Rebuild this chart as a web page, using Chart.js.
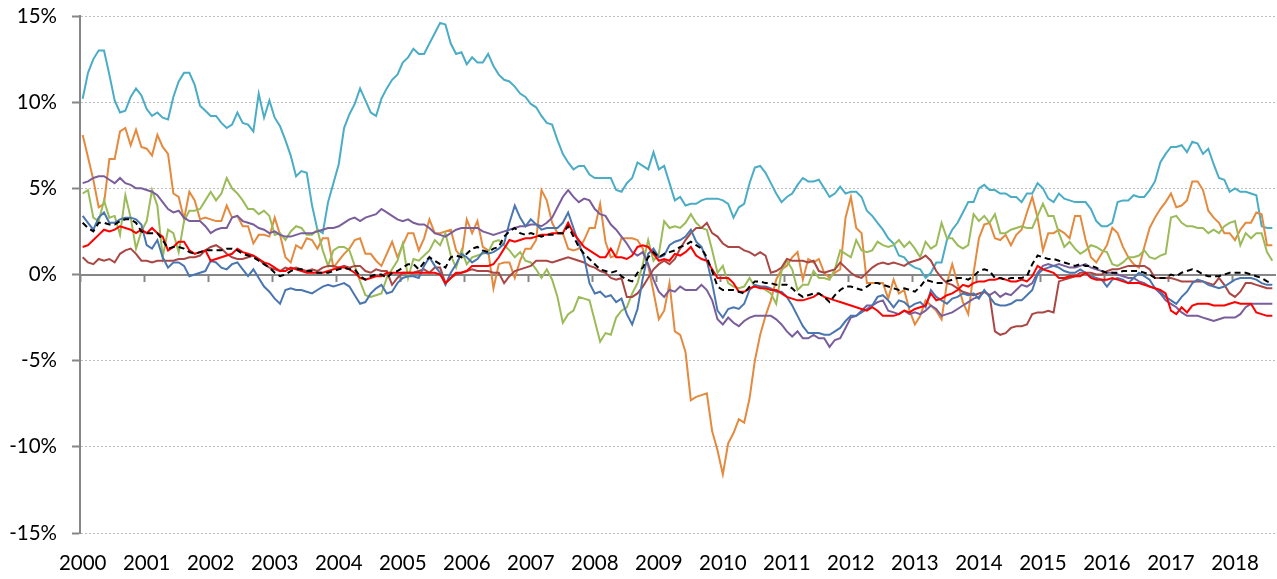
<!DOCTYPE html>
<html>
<head>
<meta charset="utf-8">
<script src="https://cdn.jsdelivr.net/npm/chart.js@4/dist/chart.umd.min.js"></script>
<style>
  html, body { margin: 0; padding: 0; background: #ffffff; }
  #contenedor { width: 1277px; height: 579px; }
</style>
</head>
<body>
<div id="contenedor"><canvas id="myChart" width="1277" height="579"></canvas></div>
<script>
//CONSTANTES
const anios = ["2000", "2001", "2002", "2003", "2004", "2005", "2006", "2007", "2008", "2009",
  "2010", "2011", "2012", "2013", "2014", "2015", "2016", "2017", "2018"];

// una fila por año (ene..dic), variación en %
const serieCian = [
  10.2, 11.7, 12.5, 13.0, 13.0, 11.6, 10.1, 9.4, 9.5, 10.3, 10.8, 10.4,
  9.6, 9.2, 9.4, 9.1, 9.0, 10.3, 11.2, 11.7, 11.7, 11.0, 9.8, 9.5,
  9.2, 9.2, 8.8, 8.5, 8.7, 9.4, 8.8, 8.7, 8.3, 10.5, 9.1, 10.1,
  9.1, 8.6, 7.8, 6.9, 5.7, 6.0, 5.9, 4.0, 2.6, 2.4, 4.2, 5.3,
  6.4, 8.5, 9.3, 9.9, 10.8, 10.1, 9.4, 9.2, 10.2, 10.8, 11.3, 11.6,
  12.3, 12.6, 13.1, 12.8, 12.8, 13.4, 14.0, 14.6, 14.5, 13.4, 12.8, 12.9,
  12.2, 12.6, 12.3, 12.3, 12.8, 12.1, 11.6, 11.3, 11.2, 10.9, 10.5, 10.3,
  9.9, 9.7, 9.2, 8.8, 8.7, 7.8, 7.0, 6.5, 6.1, 6.3, 6.3, 5.8,
  5.6, 5.6, 5.6, 5.6, 4.9, 4.8, 5.3, 5.6, 6.5, 6.3, 6.1, 7.1,
  6.1, 6.3, 5.3, 4.3, 4.5, 4.0, 4.1, 4.1, 4.3, 4.4, 4.4, 4.4,
  4.3, 4.1, 3.3, 3.9, 4.1, 5.3, 6.2, 6.3, 5.9, 5.3, 4.7, 4.2,
  4.5, 4.7, 5.2, 5.6, 5.4, 5.4, 5.5, 5.0, 4.5, 4.7, 5.1, 4.7,
  4.8, 4.8, 4.5, 3.7, 3.4, 3.0, 2.6, 2.1, 1.8, 1.1, 1.0, 0.6,
  0.4, 0.3, -0.2, 0.1, 0.7, 0.7, 2.0, 2.6, 3.0, 3.6, 4.2, 4.2,
  5.0, 5.2, 4.9, 4.9, 4.7, 4.7, 4.5, 4.5, 4.2, 4.7, 4.7, 5.3,
  5.0, 4.4, 4.2, 4.7, 4.4, 4.3, 4.2, 4.2, 4.2, 3.8, 3.1, 2.8,
  2.8, 3.0, 4.2, 4.3, 4.3, 4.6, 4.5, 4.5, 4.9, 5.4, 6.5, 7.0,
  7.4, 7.4, 7.5, 7.1, 7.7, 7.6, 7.0, 7.3, 6.4, 5.6, 5.5, 4.8,
  5.0, 4.8, 4.8, 4.7, 4.6, 2.8, 2.7, 2.7
];

const serieNaranja = [
  8.1, 6.8, 5.5, 3.9, 4.1, 6.7, 6.7, 8.3, 8.5, 7.5, 8.4, 7.4,
  7.3, 6.9, 8.1, 7.4, 7.0, 4.7, 4.5, 3.2, 4.8, 4.3, 3.2, 3.3,
  3.2, 3.1, 3.1, 4.0, 3.3, 3.4, 2.8, 2.8, 1.8, 2.3, 2.3, 2.2,
  3.3, 2.3, 1.0, 0.7, 1.7, 1.5, 2.1, 2.0, 1.5, 2.1, 2.1, 0.4,
  0.8, 1.2, 1.5, 2.0, 2.1, 1.2, 1.2, 0.8, 0.5, 1.2, 1.9, 1.0,
  1.7, 2.4, 2.4, 1.4, 2.1, 3.2, 2.4, 2.4, 2.5, 2.6, 1.4, 1.0,
  3.2, 2.4, 3.1, 1.6, 1.4, -0.8, 0.6, 0.7, 0.7, -0.2, 0.8, 1.5,
  1.5, 2.0, 4.9, 4.3, 3.0, 2.4, 2.4, 1.5, 1.4, 1.5, 2.0, 2.7,
  2.7, 4.1, 1.9, 1.0, 1.1, 2.1, 2.1, 2.1, 2.0, 1.5, 0.5, -1.0,
  -2.6, -2.1, -0.5, -3.3, -3.5, -4.5, -7.3, -7.1, -7.0, -6.9, -9.1, -10.2,
  -11.6, -9.8, -9.2, -8.4, -8.6, -7.2, -5.0, -3.5, -2.4, -1.5, -0.3, 0.3,
  0.5, 1.0, 1.3, -0.3, 0.9, 0.7, 0.9, 0.1, -0.2, 0.1, 0.3, 3.3,
  4.5, 2.7, 2.4, -0.5, -0.5, -0.5, -0.5, -1.4, -0.3, -1.1, -0.9, -2.1,
  -2.9, -2.4, -1.5, -1.8, -2.1, -2.6, -0.5, 0.6, -0.5, -1.6, -2.3, 0.1,
  2.1, 2.9, 3.0, 2.1, 2.0, 2.3, 1.7, 2.3, 2.6, 3.6, 4.5, 3.3,
  1.4, 2.4, 2.4, 2.6, 2.4, 2.1, 3.4, 3.4, 2.0, 1.0, 0.7, 1.2,
  1.7, 2.7, 2.4, 1.6, 1.0, 0.6, 0.4, 1.6, 2.7, 3.3, 3.8, 4.2,
  4.7, 3.9, 4.0, 4.3, 5.4, 5.4, 4.9, 3.7, 3.3, 3.0, 2.4, 2.4,
  2.0, 2.6, 3.0, 3.0, 3.6, 3.5, 1.7, 1.7
];

const serieVerde = [
  4.7, 4.9, 3.3, 3.1, 4.3, 3.3, 3.4, 2.3, 4.6, 3.3, 1.5, 2.5,
  3.1, 4.9, 4.0, 1.0, 2.6, 2.4, 1.3, 3.1, 3.7, 3.7, 3.8, 4.3,
  4.8, 4.3, 4.7, 5.6, 5.0, 4.7, 4.3, 3.8, 3.8, 3.5, 3.7, 3.4,
  2.3, 2.4, 2.0, 2.5, 2.8, 2.7, 2.3, 2.3, 2.6, 1.4, 0.5, 1.4,
  1.6, 1.6, 1.4, 0.5, -0.4, -1.2, -1.3, -1.2, -1.1, -0.2, 0.3, 0.8,
  1.8, -0.2, 0.9, 0.8, 1.1, 1.4, 2.0, 1.7, 2.4, 1.1, 0.4, 1.4,
  0.6, 1.0, 1.1, 1.2, 1.3, 1.9, 2.0, 1.7, 1.4, 1.0, 1.3, 0.8,
  0.7, 0.3, -0.2, 0.3, -0.3, -1.3, -2.8, -2.3, -2.1, -1.3, -1.4, -1.5,
  -2.7, -3.9, -3.4, -3.5, -2.5, -2.1, -1.9, -1.1, -0.5, 0.6, 2.0, 0.8,
  1.2, 3.1, 2.7, 2.8, 2.7, 3.0, 3.5, 3.0, 2.7, 2.6, 1.4, 0.1,
  0.5, -0.5, -0.7, -0.8, -0.7, -0.2, -0.7, -0.7, -0.9, -1.1, -1.7, 0.2,
  0.8, 0.3, -0.9, -0.6, -0.6, 0.2, -0.2, -0.2, -0.3, 0.3, 1.4, 1.2,
  1.0, 2.0, 1.4, 1.3, 1.4, 1.9, 1.7, 1.6, 1.7, 2.0, 1.6, 1.9,
  1.5, 1.0, 1.9, 1.5, 1.7, 3.0, 2.1, 2.1, 1.7, 1.5, 1.7, 3.5,
  3.1, 3.4, 3.0, 3.5, 2.4, 2.4, 2.6, 2.7, 2.8, 2.7, 2.7, 3.4,
  4.1, 3.4, 3.4, 2.4, 1.6, 1.9, 1.5, 1.2, 1.4, 1.7, 1.6, 1.4,
  1.3, 0.6, 0.5, 0.7, 1.0, 1.0, 1.1, 1.4, 1.0, 0.9, 1.1, 1.2,
  3.3, 3.4, 3.0, 2.8, 2.8, 2.7, 2.7, 2.4, 2.6, 2.4, 2.8, 3.0,
  3.1, 1.7, 2.4, 2.1, 2.4, 2.4, 1.3, 0.8
];

const serieMorada = [
  5.3, 5.4, 5.6, 5.7, 5.7, 5.5, 5.3, 5.6, 5.3, 5.2, 5.0, 5.0,
  4.9, 4.8, 4.6, 4.2, 3.8, 3.6, 3.7, 3.3, 3.1, 3.1, 3.1, 2.8,
  2.4, 2.6, 2.7, 2.7, 3.3, 3.4, 3.1, 3.0, 2.9, 2.7, 2.6, 2.4,
  2.5, 2.3, 2.2, 2.2, 2.3, 2.4, 2.4, 2.4, 2.5, 2.6, 2.7, 2.7,
  2.8, 3.0, 3.2, 3.3, 3.1, 3.3, 3.4, 3.5, 3.8, 3.6, 3.4, 3.2,
  3.1, 3.2, 3.0, 2.9, 2.9, 2.7, 2.4, 2.3, 2.2, 2.4, 2.6, 2.7,
  2.7, 2.7, 2.7, 2.5, 2.4, 2.3, 2.4, 2.5, 2.6, 2.7, 2.8, 2.8,
  2.9, 2.9, 2.8, 3.0, 3.3, 3.9, 4.5, 4.9, 4.5, 4.2, 4.4, 4.3,
  3.8, 3.5, 3.4, 2.9, 2.6, 2.2, 1.8, 1.3, 1.1, 1.3, 0.6, -0.3,
  -1.0, -1.3, -0.9, -1.0, -0.7, -0.9, -0.9, -0.9, -0.6, -0.9, -1.5, -2.6,
  -2.9, -2.5, -2.8, -3.0, -2.7, -2.5, -2.4, -2.4, -2.4, -2.4, -2.6, -2.9,
  -3.3, -3.6, -3.3, -3.7, -3.7, -3.5, -3.7, -3.7, -4.2, -3.8, -3.7, -3.1,
  -2.5, -2.4, -2.1, -1.8, -1.8, -1.6, -1.5, -2.1, -2.2, -2.3, -2.1, -2.3,
  -2.2, -2.3, -2.1, -1.8, -2.0, -2.4, -2.3, -2.2, -2.0, -1.8, -1.6, -1.4,
  -1.3, -1.0, -1.2, -1.0, -1.3, -1.1, -1.2, -0.9, -0.6, -0.7, -0.5, 0.1,
  0.5, 0.6, 0.5, 0.6, 0.5, 0.4, 0.4, 0.5, 0.6, 0.4, 0.3, 0.2,
  0.1, 0.1, 0.0, -0.1, -0.2, -0.2, -0.4, -0.5, -0.7, -0.8, -1.1, -1.5,
  -1.7, -1.9, -2.2, -2.4, -2.4, -2.4, -2.5, -2.6, -2.7, -2.6, -2.5, -2.5,
  -2.5, -2.3, -1.9, -1.7, -1.7, -1.7, -1.7, -1.7
];

const serieAzul = [
  3.4, 3.0, 2.6, 3.3, 3.6, 3.0, 3.0, 3.2, 3.3, 3.3, 3.2, 2.9,
  1.7, 1.5, 2.0, 1.0, 0.4, 0.7, 0.7, 0.5, -0.1, 0.0, 0.1, 0.2,
  0.8, 0.7, 0.4, 0.3, 0.6, 0.7, 0.3, -0.1, 0.3, -0.2, -0.7, -1.0,
  -1.4, -1.7, -0.9, -0.8, -0.9, -0.9, -1.0, -1.1, -0.9, -0.7, -0.6, -0.7,
  -0.6, -0.5, -0.7, -1.2, -1.7, -1.6, -1.1, -0.8, -0.6, -1.1, -1.0, -0.5,
  -0.2, -0.1, -0.1, -0.2, 0.5, 1.0, 0.5, 0.1, -0.6, 0.1, 0.6, 1.2,
  1.0, 0.7, 0.9, 1.3, 1.2, 1.3, 1.5, 1.8, 3.0, 4.0, 3.3, 2.8,
  3.2, 2.9, 2.6, 2.7, 2.7, 2.7, 3.0, 3.6, 2.7, 1.8, 1.0, -0.5,
  -1.1, -1.0, -1.3, -1.2, -1.6, -1.4, -2.3, -2.9, -2.0, -0.2, 1.2, 1.5,
  1.0, 1.1, 1.7, 1.9, 2.0, 2.2, 2.6, 1.9, 1.6, 0.8, -0.5, -2.1,
  -2.5, -2.0, -1.9, -2.0, -1.7, -0.9, -0.6, -0.7, -0.7, -0.8, -1.0, -1.0,
  -1.3, -1.8, -2.4, -3.0, -3.4, -3.4, -3.4, -3.5, -3.5, -3.3, -3.1, -2.7,
  -2.4, -2.4, -2.2, -2.0, -1.8, -1.3, -1.2, -1.5, -1.9, -1.5, -1.6, -1.9,
  -1.7, -1.6, -1.9, -0.9, -1.3, -1.5, -1.7, -1.4, -1.3, -1.1, -1.2, -1.1,
  -1.4, -0.9, -1.3, -1.7, -1.8, -1.8, -1.7, -1.5, -1.5, -1.2, -0.9, 0.0,
  0.3, 0.4, 0.5, 0.4, 0.2, 0.1, 0.1, 0.3, 0.1, -0.1, -0.2, -0.3,
  -0.7, -0.3, -0.2, -0.3, -0.5, -0.2, 0.1, -0.1, -0.3, -0.8, -1.0, -1.3,
  -1.5, -1.7, -1.3, -1.0, -0.5, -0.3, -0.4, -0.6, -0.7, -0.8, -0.7, -0.5,
  -0.3, -0.2, -0.2, -0.2, -0.3, -0.5, -0.6, -0.6
];

const serieRoja = [
  1.6, 1.7, 2.0, 2.3, 2.6, 2.5, 2.6, 2.8, 2.7, 2.6, 2.4, 2.6,
  2.4, 2.7, 2.4, 2.2, 1.4, 1.6, 1.9, 1.9, 1.4, 1.2, 1.3, 1.4,
  0.8, 0.9, 1.0, 1.1, 1.2, 1.5, 1.3, 1.2, 1.1, 0.9, 0.7, 0.6,
  0.4, 0.2, 0.2, 0.4, 0.3, 0.2, 0.1, 0.1, 0.1, 0.1, 0.2, 0.3,
  0.4, 0.4, 0.3, 0.1, -0.2, -0.3, -0.2, -0.1, -0.1, 0.1, 0.1, 0.1,
  0.1, 0.1, 0.1, 0.1, 0.1, 0.1, 0.1, 0.0, -0.5, -0.2, 0.1, 0.1,
  0.2, 0.5, 0.5, 0.5, 0.5, 0.6, 1.0, 1.5, 2.0, 1.9, 2.0, 2.1,
  2.1, 2.2, 2.3, 2.3, 2.4, 2.4, 2.4, 3.0, 2.4, 2.0, 1.6, 1.4,
  1.2, 1.0, 1.0, 1.5, 1.0, 1.0, 0.9, 1.1, 1.6, 1.7, 1.6, 1.2,
  0.8, 0.9, 0.8, 1.2, 1.1, 1.3, 1.6, 1.1, 0.9, 0.8, 0.3, -0.2,
  -0.2, -0.2, -0.5, -1.0, -1.0, -0.8, -0.7, -0.8, -0.8, -0.9, -0.9, -1.1,
  -1.3, -1.4, -1.5, -1.5, -1.4, -1.3, -1.1, -1.3, -1.4, -1.5, -1.6, -1.7,
  -1.8, -1.9, -2.0, -2.1, -1.9, -2.1, -2.4, -2.4, -2.4, -2.3, -2.1, -2.2,
  -2.0, -1.9, -1.8, -1.1, -1.5, -1.4, -1.2, -1.1, -0.9, -0.6, -0.7, -0.5,
  -0.4, -0.4, -0.3, -0.3, -0.2, -0.3, -0.4, -0.4, -0.3, -0.4, -0.1, 0.5,
  0.3, 0.2, 0.1, -0.2, -0.2, -0.1, -0.1, -0.1, 0.1, -0.2, -0.3, -0.3,
  -0.3, -0.2, -0.3, -0.4, -0.5, -0.5, -0.5, -0.6, -0.7, -0.8, -0.9, -1.1,
  -2.1, -2.3, -1.9, -2.2, -1.8, -1.7, -1.7, -1.7, -1.8, -1.8, -1.8, -1.7,
  -1.6, -1.7, -1.7, -1.7, -2.2, -2.3, -2.4, -2.4
];

const serieGranate = [
  1.0, 0.7, 0.6, 0.9, 0.8, 0.9, 0.7, 1.2, 1.4, 1.5, 1.2, 0.8,
  0.8, 0.7, 0.8, 0.8, 0.8, 0.8, 0.9, 0.9, 1.0, 1.0, 1.1, 1.4,
  1.6, 1.7, 1.5, 1.2, 1.0, 0.9, 0.9, 1.0, 1.1, 0.9, 0.6, 0.4,
  0.3, 0.2, 0.4, 0.3, 0.4, 0.3, 0.2, 0.3, 0.2, 0.4, 0.5, 0.5,
  0.4, 0.5, 0.4, 0.5, 0.5, 0.2, 0.1, 0.3, 0.2, 0.2, -0.6, -0.2,
  0.1, 0.1, 0.1, 0.2, 0.3, 0.1, 0.4, 0.4, -0.5, -0.2, 0.0, 0.1,
  0.2, 0.3, 0.2, 0.2, 0.2, 0.1, 0.1, -0.5, -0.1, 0.2, 0.3, 0.4,
  0.5, 0.8, 0.8, 0.8, 0.7, 0.8, 0.9, 1.0, 0.9, 0.8, 0.7, 0.5,
  0.4, 0.2, 0.1, -0.2, -0.3, -0.2, -1.3, -1.3, -1.1, -0.7, -0.2, 0.3,
  0.6, 0.8, 0.6, 0.9, 1.5, 2.0, 2.4, 2.7, 2.7, 3.0, 2.4, 2.2,
  1.8, 1.6, 1.6, 1.6, 1.4, 1.3, 1.1, 1.3, 1.1, 0.1, 0.2, 0.4,
  0.9, 0.8, 0.8, 0.8, 0.7, 0.8, 0.2, 0.1, 0.2, 0.3, 0.7, 0.4,
  0.1, -0.1, -0.2, 0.1, 0.4, 0.6, 0.7, 0.6, 0.7, 0.6, 0.5, 0.7,
  0.8, 0.9, 1.1, 0.8, 0.2, -0.2, -0.5, -0.6, -0.8, -1.0, -1.1, -1.2,
  -1.1, -1.0, -1.2, -3.3, -3.5, -3.4, -3.1, -3.0, -3.0, -2.9, -2.3, -2.2,
  -2.2, -2.1, -2.2, -0.4, -0.3, -0.2, -0.1, 0.1, 0.1, 0.1, 0.0, 0.0,
  0.2, 0.3, 0.3, 0.4, 0.5, 0.5, 0.5, 0.5, 0.3, -0.2, -0.2, -0.2,
  -0.2, -0.3, -0.4, -0.4, -0.4, -0.4, -0.4, -0.5, -0.6, -0.2, -0.6, -1.1,
  -1.3, -1.0, -0.5, -0.5, -0.6, -0.7, -0.8, -0.8
];

const seriePromedio = [
  3.0, 2.7, 2.5, 3.0, 3.0, 2.9, 2.9, 3.1, 3.2, 3.2, 3.0, 2.5,
  2.4, 2.4, 2.4, 2.0, 1.5, 1.6, 1.6, 1.5, 1.3, 1.2, 1.3, 1.4,
  1.4, 1.4, 1.4, 1.5, 1.5, 1.4, 1.2, 1.1, 1.0, 0.8, 0.6, 0.4,
  0.1, -0.1, 0.0, 0.2, 0.3, 0.3, 0.2, 0.2, 0.1, 0.1, 0.1, 0.2,
  0.3, 0.4, 0.3, 0.3, -0.1, -0.3, -0.1, 0.0, 0.0, -0.2, 0.1, 0.2,
  0.4, 0.6, 0.6, 0.3, 0.7, 1.0, 0.8, 0.6, 0.4, 1.0, 1.1, 1.0,
  1.2, 1.5, 1.6, 1.4, 1.3, 1.5, 1.6, 2.2, 2.5, 2.7, 2.4, 2.3,
  2.4, 2.3, 2.2, 2.3, 2.3, 2.4, 2.4, 2.8, 2.2, 1.6, 1.2, 0.9,
  0.6, 0.3, 0.2, 0.1, 0.2, -0.1, -0.3, -0.4, 0.1, 0.4, 1.0, 1.3,
  1.0, 1.2, 1.3, 1.4, 1.6, 1.7, 1.9, 1.7, 1.5, 1.0, 0.2, -0.7,
  -0.9, -0.9, -0.9, -1.0, -1.1, -0.7, -0.4, -0.4, -0.5, -0.5, -0.6, -0.6,
  -0.6, -0.8, -1.1, -1.3, -1.2, -1.1, -1.1, -1.3, -1.6, -1.2, -0.9, -0.7,
  -0.7, -0.8, -0.9, -0.7, -0.5, -0.5, -0.6, -0.7, -0.8, -0.9, -0.8, -0.9,
  -1.0, -0.7, -0.3, -0.4, -0.5, -0.5, -0.4, -0.3, -0.2, -0.2, -0.3, -0.1,
  0.2, 0.3, 0.2, -0.2, -0.2, -0.3, -0.2, -0.2, -0.2, -0.1, 0.6, 1.1,
  1.0, 0.9, 0.9, 0.8, 0.7, 0.6, 0.5, 0.6, 0.5, 0.5, 0.4, 0.2,
  0.1, 0.1, 0.1, 0.2, 0.2, 0.2, 0.2, 0.1, 0.0, -0.2, -0.2, -0.2,
  0.0, -0.1, 0.1, 0.2, 0.3, 0.2, 0.0, -0.1, -0.1, -0.1, 0.0, 0.1,
  0.1, 0.1, 0.1, 0.0, -0.1, -0.2, -0.4, -0.5
];

// indice de mes desde enero 2000
const meses = serieCian.map((v, i) => i);
const ultimoMes = meses.length - 1;
const GRIS_EJE = "#868686";

//FUNCIONES
function crearSerie(datos, color, discontinua) {
  return {
    data: datos,
    borderColor: color,
    backgroundColor: color,
    borderWidth: 2,
    borderDash: discontinua ? [6, 4] : [],
    pointRadius: 0,
    tension: 0,
    fill: false,
  };
}

function cargarGrafico() {
  Chart.defaults.font.family = "Lato, 'Open Sans', sans-serif";
  Chart.defaults.color = "#000000";

  const data = {
    labels: meses,
    datasets: [
      crearSerie(seriePromedio, "#000000", true),
      crearSerie(serieRoja, "#ff0000", false),
      crearSerie(serieAzul, "#4a76b0", false),
      crearSerie(serieGranate, "#aa4744", false),
      crearSerie(serieMorada, "#7a5e9b", false),
      crearSerie(serieVerde, "#9bbb59", false),
      crearSerie(serieNaranja, "#e48a3e", false),
      crearSerie(serieCian, "#4bacc6", false),
    ],
  };

  const config = {
    type: "line",
    data: data,
    options: {
      responsive: false,
      devicePixelRatio: 1,
      animation: false,
      layout: { padding: { top: 16, right: 2, left: 0, bottom: 0 } },
      plugins: {
        legend: { display: false },
        tooltip: { enabled: false },
      },
      scales: {
        x: {
          type: "linear",
          position: "bottom",
          min: -0.5,
          max: ultimoMes + 0.5,
          border: { display: false },
          grid: { display: false, drawTicks: false },
          afterBuildTicks: (escala) => {
            escala.ticks = anios.map((a, k) => ({ value: k * 12 }));
          },
          afterFit: (escala) => {
            escala.height = 46;
            escala.paddingLeft = 0;
            escala.paddingRight = 0;
          },
          ticks: {
            autoSkip: false,
            maxRotation: 0,
            padding: 18,
            font: { size: 20.5 },
            callback: (valor, indice) => anios[indice],
          },
        },
        eje0: {
          axis: "x",
          type: "linear",
          position: { y: 0 },
          min: -0.5,
          max: ultimoMes + 0.5,
          border: { display: true, color: GRIS_EJE, width: 2 },
          grid: {
            drawOnChartArea: false,
            drawTicks: true,
            tickLength: 6,
            tickColor: GRIS_EJE,
            tickWidth: 2,
          },
          afterBuildTicks: (escala) => {
            escala.ticks = anios.map((a, k) => ({ value: k * 12 - 0.5 }));
          },
          afterFit: (escala) => {
            escala.paddingLeft = 0;
            escala.paddingRight = 0;
          },
          ticks: { display: false },
        },
        y: {
          min: -15,
          max: 15,
          afterFit: (escala) => {
            escala.width = 80;
            escala.paddingTop = 0;
            escala.paddingBottom = 0;
          },
          border: { display: true, color: GRIS_EJE, width: 2, dash: [2, 2] },
          grid: {
            color: "#bdbdbd",
            lineWidth: 1,
            tickLength: 8,
            tickColor: GRIS_EJE,
            tickWidth: 2,
          },
          ticks: {
            stepSize: 5,
            padding: 15,
            font: { size: 20.5 },
            callback: (valor) => valor + "%",
          },
        },
      },
    },
  };
  const myChart = new Chart(document.getElementById("myChart"), config);
}

//EVENTOS
cargarGrafico();
</script>
</body>
</html>
